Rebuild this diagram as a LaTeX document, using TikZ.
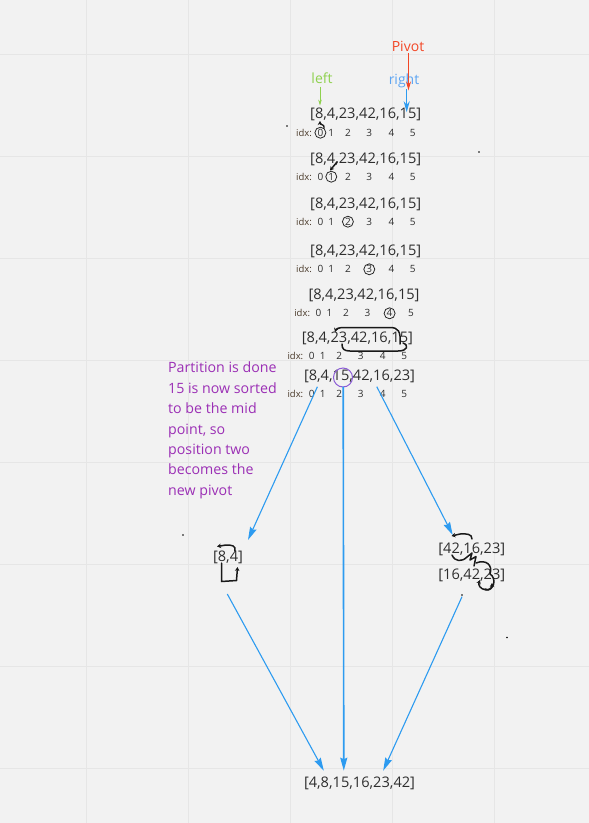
\documentclass[tikz,border=0pt]{standalone}
\usepackage{fontspec}
\setmainfont{Open Sans}
\usetikzlibrary{arrows.meta}
\definecolor{bg}{HTML}{F2F2F2}
\definecolor{gridc}{HTML}{E6E6E6}
\definecolor{txt}{HTML}{2E2E2E}
\definecolor{idxc}{HTML}{4A3A2A}
\definecolor{bluea}{HTML}{2D9BF0}
\definecolor{rightc}{HTML}{5DA5F2}
\definecolor{leftc}{HTML}{8FD14F}
\definecolor{pivc}{HTML}{F24726}
\definecolor{purp}{HTML}{9B2FB5}
\definecolor{circp}{HTML}{8B5BD6}
\begin{document}
\begin{tikzpicture}[x=1pt,y=-1pt,
  arr/.style={font=\fontsize{14.6}{17}\selectfont, text=txt, inner sep=0},
  idxl/.style={font=\fontsize{9.5}{10}\selectfont, text=idxc, inner sep=0},
  dig/.style={font=\fontsize{10}{11}\selectfont, text=txt, inner sep=0},
  lbl/.style={font=\fontsize{14}{16}\selectfont, inner sep=0},
  flow/.style={draw=bluea, line width=1.1pt, -{Stealth[length=13pt,width=7pt,inset=1.5pt]}},
  scrib/.style={draw=black!90, line width=1.5pt, line cap=round, line join=round},
  tipa/.style={-{Stealth[length=4pt,width=4.5pt]}},
  ring/.style={draw=black!85, line width=0.8pt},
  dotm/.style={fill=black}
]
\fill[bg] (0,0) rectangle (589,823);
\useasboundingbox (0,0) rectangle (589,823);
\foreach \x in {86,188,290,392,494} \draw[gridc, line width=1pt] (\x,0) -- (\x,823);
\foreach \y in {54.5,156.5,258.5,360.5,462.5,564.5,666.5,768.5} \draw[gridc, line width=1pt] (0,\y) -- (589,\y);

% labels
\node[lbl, text=pivc] (pivot) at (408,46) {Pivot};
\node[lbl, text=leftc] (left) at (322,78) {left};
\node[lbl, text=rightc] (right) at (404,81) {right};

% arrays
\node[arr] (r1) at (365.7,114.3) {[8,4,23,42,16,15]};
\node[arr] (r2) at (365.7,159) {[8,4,23,42,16,15]};
\node[arr] (r3) at (365.7,204.7) {[8,4,23,42,16,15]};
\node[arr] (r4) at (365.7,251.7) {[8,4,23,42,16,15]};
\node[arr] (r5) at (364,295.7) {[8,4,23,42,16,15]};
\node[arr] (r6) at (357.4,338.3) {[8,4,23,42,16,15]};
\node[arr] (r7) at (359.5,376) {[8,4,15,42,16,23]};

% idx rows
\foreach \r/\y/\dx in {1/132.7/0, 2/176.7/0, 3/221.7/0, 4/269.3/0, 5/313.3/-1.8, 6/355.7/-8.6, 7/393.7/-8.6}{
  \node[idxl] (i\r) at (304+\dx,\y) {idx:};
  \foreach \d/\x in {0/320.4,1/331.3,2/347.9,3/369.3,4/391.4,5/412.8}
    \node[dig] (d\r\d) at (\x+\dx,\y) {\d};
}

% pointer arrows
\draw[pivc, line width=1pt, -{Stealth[length=9pt,width=5pt]}] (pivot.south) ++(0.5,2) coordinate (pv1) -- ++(0,37) coordinate (pv2);
\draw[leftc, line width=0.8pt, -{Stealth[length=6pt,width=3.5pt]}] (left.south) ++(-2,3) coordinate (lf1) -- ++(0,19) coordinate (lf2);
\draw[bluea, line width=1pt, -{Stealth[length=11pt,width=6pt]}] (right.south) ++(2.7,1) coordinate (rt1) -- ++(0,23) coordinate (rt2);

% circles
\draw[ring] (d10) circle (5.5);
\draw[ring] (d21) circle (5.5);
\draw[ring] (d32) circle (5.5);
\draw[ring] (d43) circle (5.5);
\draw[ring] (d54) circle (5.5);
\draw[circp, line width=1pt] (343,377.5) circle (9.5);

% scribbles rows 1,2
\draw[scrib, line width=1.3pt, tipa] (324,128) .. controls (325,124) and (320,125) .. (320,121);
\draw[scrib, tipa] (337,162) -- (330,170.5);
% row 6 swap
\draw[scrib, tipa] (400,344) .. controls (401,331) and (398,327.5) .. (390,327.5) -- (345,327.5) .. controls (338,327.5) and (336,329) .. (335,332);
\draw[scrib] (403,343) .. controls (409,345) and (408,351) .. (398,351) -- (350,351) .. controls (344,351) and (342,349) .. (342,344);

% dots
\fill[dotm] (287,126) circle (0.9);
\fill[dotm] (479,152) circle (0.9);
\fill[dotm] (183,535) circle (0.9);
\fill[dotm] (507,637.5) circle (0.9);
\fill[dotm] (462,595) circle (0.9);

% note
\node[font=\fontsize{14.2}{20.4}\selectfont, text=purp, align=left, anchor=north west, inner sep=0] (note) at (168,362) {Partition is done\\15 is now sorted\\to be the mid\\point, so\\position two\\becomes the\\new pivot};

% sub arrays
\node[arr] (s1) at (228,557.3) {[8,4]};
\node[arr] (s2) at (471.8,549.7) {[42,16,23]};
\node[arr] (s3) at (471.8,575) {[16,42,23]};
\node[arr] (fin) at (359.5,783.3) {[4,8,15,16,23,42]};

% flow arrows
\coordinate (a1) at (317.4,386.7);
\coordinate (a2) at (343.2,386.7);
\coordinate (a3) at (376.8,386.7);
\coordinate (b1) at (227.3,594);
\coordinate (b2) at (462,596.7);
\coordinate (t1) at (248,540);
\coordinate (t2) at (452.7,535);
\coordinate (t3) at (323.8,770.7);
\coordinate (t4) at (383.2,770.7);
\coordinate (t5) at (343.8,770.7);
\draw[flow] (a1) -- (t1);
\draw[flow, line width=1.6pt] (a2) -- (t5);
\draw[flow] (a3) -- (t2);
\draw[flow] (b1) -- (t3);
\draw[flow] (b2) -- (t4);

% [8,4] scribbles
\draw[scrib, tipa] (235,551) .. controls (236,545.5) and (232,545) .. (226,545) -- (217,546.5);
\draw[scrib, tipa] (221.5,563) -- (221.5,581.5) -- (236.5,580.5) -- (237.5,567);
% right cluster scribbles
\draw[scrib, tipa] (472,539) .. controls (472,534) and (467,533.5) .. (460,534) -- (451.5,536);
\draw[scrib] (452,555) .. controls (455,562) and (462,562) .. (467,557) -- (472,553) -- (470,560) -- (476,556.5) -- (474,566);
\draw[scrib, tipa] (476,563) .. controls (486,559) and (493,565) .. (490,574) .. controls (497,578) and (494,591) .. (486,590) .. controls (480,589) and (478,585) .. (480,580) ;
\draw[scrib, tipa] (485,589) .. controls (489,591) and (492,588) .. (492,583);
\end{tikzpicture}
\end{document}
